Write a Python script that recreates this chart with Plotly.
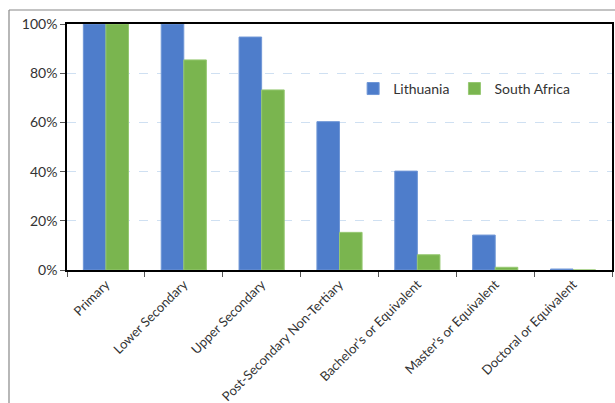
import plotly.graph_objects as go

categories = ["Primary", "Lower Secondary", "Upper Secondary", "Post-Secondary Non-Tertiary",
              "Bachelor’s or Equivalent", "Master’s or Equivalent", "Doctoral or Equivalent"]
lithuania = [1.00, 1.00, 0.947, 0.603, 0.402, 0.142, 0.004]
south_africa = [1.00, 0.854, 0.732, 0.153, 0.062, 0.011, 0.0]

font_family = "Lato, 'Open Sans', sans-serif"

fig = go.Figure()
fig.add_trace(go.Bar(x=categories, y=lithuania, name="Lithuania",
                     marker=dict(color="#4E7DCB", line=dict(color="#6F96D6", width=1))))
fig.add_trace(go.Bar(x=categories, y=south_africa, name="South Africa",
                     marker=dict(color="#7AB54F", line=dict(color="#96C872", width=1))))

fig.update_layout(
    width=615, height=403,
    margin=dict(l=67, r=3, t=24, b=133),
    paper_bgcolor="white", plot_bgcolor="white",
    barmode="group", bargap=0.42, bargroupgap=0,
    font=dict(family=font_family, color="#333333"),
    showlegend=True,
    legend=dict(orientation="h", x=0.525, y=0.736, xanchor="left", yanchor="middle",
                font=dict(size=14, color="#333333"), bgcolor="rgba(0,0,0,0)",
                itemwidth=30, tracegroupgap=0),
    xaxis=dict(showline=True, linecolor="black", linewidth=1.5, mirror=True,
               ticks="outside", tickson="boundaries", ticklen=5, tickcolor="#555555",
               tickangle=-45, tickfont=dict(size=13, color="#333333"), showgrid=False,
               automargin=False),
    yaxis=dict(range=[0, 1], tickvals=[0, 0.2, 0.4, 0.6, 0.8, 1.0], tickformat=".0%",
               showline=True, linecolor="black", linewidth=1.5, mirror=True,
               ticks="outside", ticklen=5, tickcolor="#555555",
               tickfont=dict(size=14, color="#333333"),
               showgrid=True, gridcolor="#CFE0F2", griddash="dash", gridwidth=1,
               zeroline=False, automargin=False),
)

fig.add_shape(type="line", xref="paper", yref="paper", x0=-58/545, x1=-58/545, y0=-1, y1=(403-10-133)/246,
              line=dict(color="#888888", width=1.2))
fig.add_shape(type="line", xref="paper", yref="paper", x0=-58/545, x1=1.1, y0=(403-10-133)/246, y1=(403-10-133)/246,
              line=dict(color="#888888", width=1.2))

fig.write_html("out.html")
